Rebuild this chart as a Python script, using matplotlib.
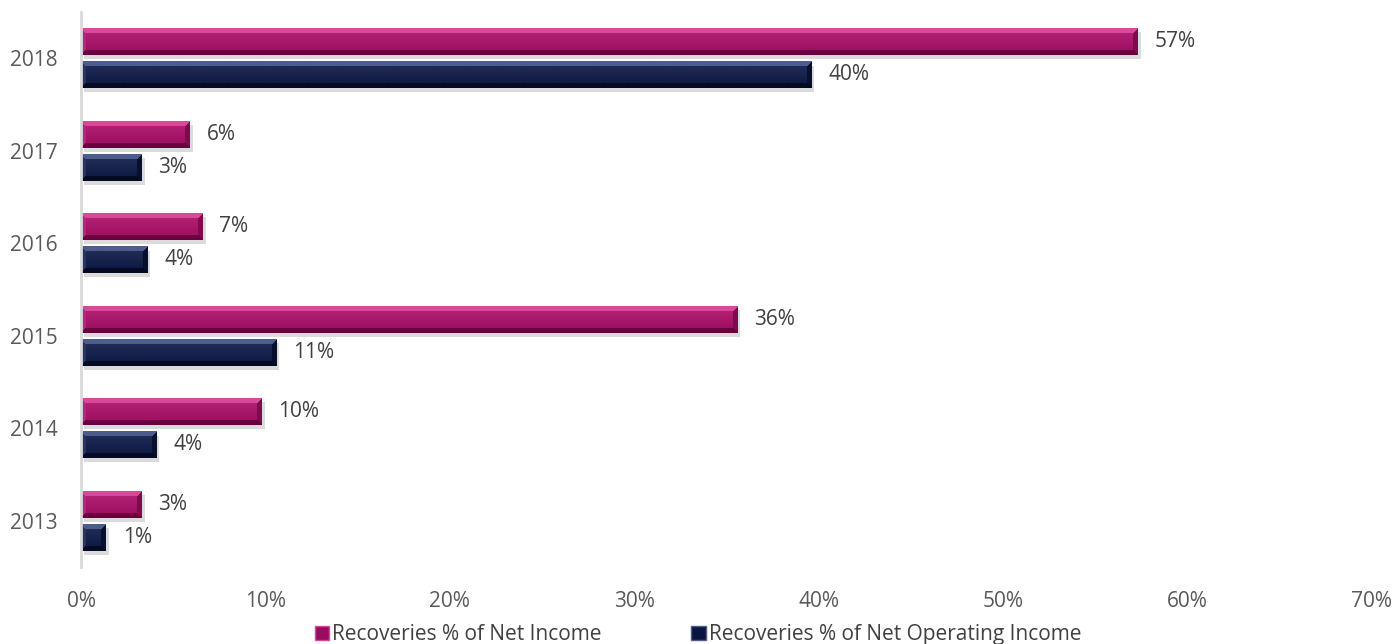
import numpy as np
import matplotlib
matplotlib.use("Agg")
import matplotlib.pyplot as plt
from matplotlib.patches import Rectangle
from matplotlib.colors import to_rgb
import matplotlib.patheffects as pe

plt.rcParams['font.family'] = ['Open Sans', 'DejaVu Sans']

years = ['2013', '2014', '2015', '2016', '2017', '2018']
net_income = [3.3, 9.8, 35.6, 6.6, 5.9, 57.3]
net_operating = [1.35, 4.1, 10.6, 3.6, 3.3, 39.6]
series_names = ['Recoveries % of Net Income', 'Recoveries % of Net Operating Income']
xticks = [0, 10, 20, 30, 40, 50, 60, 70]

# base / top bevel / bottom bevel / left / right shades
pink = dict(base='#9C0C5E', top='#D9489A', bottom='#6A0040', left='#B5277A', right='#800A4C')
navy = dict(base='#0B1740', top='#4D5D8E', bottom='#040A22', left='#26345F', right='#07102E')

W, H = 1396, 644
fig = plt.figure(figsize=(W / 100, H / 100), dpi=100)
ax = fig.add_axes([81 / W, 77 / H, 1291 / W, 555 / H])
ax.set_xlim(0, 70)
ax.set_ylim(-0.5, 5.5)

px_per_unit = 1291 / 70
px_per_cat = 555 / 6
bar_h = 0.29
off = 0.18


def bevel_image(width_px, height_px, shades, b=5):
    """Build an RGB array with a chiselled edge around the bar."""
    width_px = max(width_px, 2)
    img = np.zeros((height_px, width_px, 3))
    yy, xx = np.mgrid[0:height_px, 0:width_px]
    dist = np.stack([yy, height_px - 1 - yy, xx, width_px - 1 - xx])
    nearest = dist.argmin(axis=0)
    near = dist.min(axis=0) < b
    img[:] = to_rgb(shades['base'])
    for k, key in enumerate(['top', 'bottom', 'left', 'right']):
        img[near & (nearest == k)] = to_rgb(shades[key])
    # soft vertical sheen on the face
    face = ~near
    t = yy / max(height_px - 1, 1)
    sheen = 0.10 * (1 - t)
    img[face] = np.clip(img[face] + sheen[face][:, None], 0, 1)
    return img


def draw_bars(values, centre_shift, shades):
    for i, v in enumerate(values):
        y = i + centre_shift
        rect = Rectangle((0, y - bar_h / 2), v, bar_h, facecolor=shades['base'],
                         edgecolor='none', zorder=2)
        rect.set_path_effects([pe.SimplePatchShadow(offset=(2, -3), shadow_rgbFace='#9a9a9a',
                                                    alpha=0.35), pe.Normal()])
        ax.add_patch(rect)
        img = bevel_image(int(round(v * px_per_unit)), int(round(bar_h * px_per_cat)), shades)
        im = ax.imshow(img, extent=(0, v, y - bar_h / 2, y + bar_h / 2), aspect='auto',
                       interpolation='bilinear', zorder=3)
        im.set_clip_path(rect)
        ax.annotate(f'{v:.0f}%', (v, y), xytext=(12, 0), textcoords='offset points',
                    ha='left', va='center', fontsize=15, color='#404040')


y = np.arange(len(years))
draw_bars(net_income, off, pink)
draw_bars(net_operating, -off, navy)

ax.set_yticks(y)
ax.set_yticklabels(years)
ax.set_xticks(xticks)
ax.set_xticklabels([f'{t}%' for t in xticks])
ax.tick_params(axis='y', length=0, pad=17, labelsize=15, labelcolor='#595959')
ax.tick_params(axis='x', length=0, pad=17, labelsize=15, labelcolor='#595959')
for side in ['top', 'right', 'bottom']:
    ax.spines[side].set_visible(False)
ax.spines['left'].set_color('#D9D9D9')
ax.spines['left'].set_linewidth(2)
ax.spines['left'].set_zorder(5)

handles = [Rectangle((0, 0), 1, 1, facecolor=pink['base'], edgecolor=pink['top'], linewidth=1),
           Rectangle((0, 0), 1, 1, facecolor=navy['base'], edgecolor=navy['top'], linewidth=1)]
fig.legend(handles, series_names, loc='lower center', bbox_to_anchor=(0.5, -0.031), ncol=2,
           frameon=False, fontsize=15, labelcolor='#404040', handlelength=0.7,
           handleheight=0.7, handletextpad=0.15, columnspacing=4.3)

fig.savefig('out.png', dpi=100)
